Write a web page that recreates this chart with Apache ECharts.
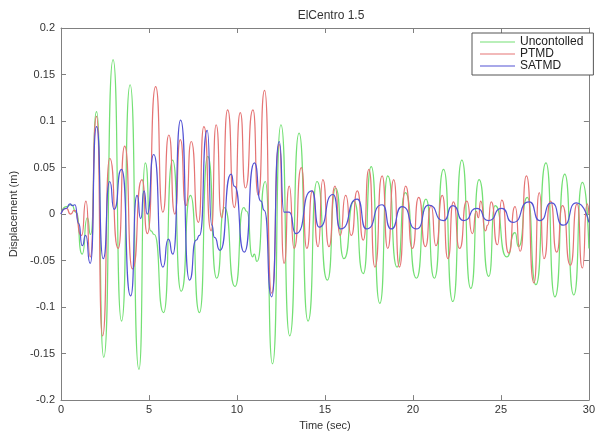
<!DOCTYPE html>
<html>
<head>
<meta charset="utf-8">
<script src="https://cdn.jsdelivr.net/npm/echarts@6/dist/echarts.min.js"></script>
<style>
  html, body { margin: 0; padding: 0; background: #fff; }
  #chart { width: 598px; height: 436px; }
</style>
</head>
<body>
<div id="chart"></div>
<script>
// values (peaks / troughs of each response)
const uncTime = [0, 0.3, 0.6, 0.85, 1.2, 1.5, 1.68, 2.02, 2.43, 2.96, 3.44, 3.93, 4.43, 4.79, 5.1, 5.3, 5.83, 6.34, 6.83, 7.36, 7.87, 8.34, 8.85, 9.29, 9.89, 10.38, 10.55, 10.89, 10.98, 11.14, 11.61, 12.02, 12.5, 13.0, 13.53, 14.04, 14.55, 15.14, 15.61, 16.08, 16.65, 17.18, 17.63, 18.12, 18.57, 19.1, 19.57, 20.2, 20.74, 21.22, 21.74, 22.27, 22.78, 23.29, 23.76, 24.31, 24.67, 25.33, 25.8, 26.0, 26.5, 26.99, 27.56, 28.07, 28.63, 29.14, 29.63, 30]
const uncDisp = [0, 0.008, 0.01, 0.002, -0.043, -0.004, -0.022, 0.11, -0.154, 0.166, -0.115, 0.139, -0.167, 0.055, -0.018, -0.022, -0.106, 0.058, -0.083, 0.02, -0.106, 0.062, -0.069, 0.007, -0.078, 0.007, 0.003, -0.046, -0.043, -0.051, 0.035, -0.161, 0.096, -0.131, 0.087, -0.115, 0.035, -0.071, 0.028, -0.048, 0.014, -0.064, 0.051, -0.096, 0.041, -0.057, 0.023, -0.069, 0.016, -0.069, 0.048, -0.094, 0.058, -0.08, 0.037, -0.067, 0.009, -0.046, -0.02, -0.035, 0.018, -0.076, 0.055, -0.089, 0.043, -0.087, 0.034, -0.037]

const ptmdTime = [0, 0.3, 0.55, 0.76, 1.17, 1.42, 1.66, 2.02, 2.36, 2.77, 3.25, 3.62, 4.06, 4.6, 4.91, 5.38, 5.79, 6.13, 6.47, 6.78, 7.1, 7.4, 7.81, 8.12, 8.53, 8.82, 9.13, 9.47, 9.85, 10.19, 10.48, 10.91, 11.21, 11.57, 11.97, 12.4, 12.68, 12.97, 13.25, 13.66, 13.97, 14.29, 14.61, 14.88, 15.23, 15.57, 15.86, 16.18, 16.5, 16.84, 17.18, 17.5, 17.84, 18.25, 18.57, 18.91, 19.23, 19.59, 19.97, 20.33, 20.71, 21.03, 21.31, 21.67, 21.99, 22.3, 22.65, 23.06, 23.38, 23.6, 23.72, 23.85, 24.12, 24.25, 24.45, 24.8, 25.05, 25.45, 25.8, 26.1, 26.45, 26.88, 27.18, 27.45, 27.82, 28.17, 28.5, 28.95, 29.33, 29.63, 29.9, 30]
const ptmdDisp = [0, 0.006, 0.0, 0.004, -0.023, 0.014, -0.046, 0.105, -0.131, 0.06, -0.037, 0.073, -0.059, 0.037, -0.021, 0.137, 0.002, 0.085, 0.0, 0.08, 0.009, 0.078, -0.009, 0.094, -0.018, 0.096, -0.004, 0.112, 0.007, 0.109, 0.028, 0.112, 0.02, 0.133, -0.085, 0.075, -0.053, 0.03, -0.037, 0.05, -0.037, 0.025, -0.035, 0.037, -0.035, 0.03, -0.023, 0.02, -0.023, 0.025, -0.028, 0.048, -0.057, 0.041, -0.037, 0.037, -0.057, 0.03, -0.037, 0.018, -0.035, 0.009, -0.034, 0.02, -0.048, 0.013, -0.037, 0.014, -0.021, 0.003, -0.004, 0.014, -0.018, -0.012, 0.013, -0.033, 0.015, -0.042, 0.008, -0.04, 0.041, -0.074, 0.023, -0.048, 0.014, -0.041, 0.009, -0.055, 0.011, -0.058, 0.011, 0.0]

const satmdTime = [0, 0.3, 0.51, 0.65, 0.79, 1.0, 1.21, 1.4, 1.66, 2.02, 2.4, 2.77, 3.02, 3.44, 3.96, 4.32, 4.53, 4.72, 4.9, 5.27, 5.79, 6.1, 6.36, 6.8, 7.3, 7.68, 7.87, 8.31, 8.57, 8.72, 9.04, 9.67, 9.85, 10.42, 10.99, 11.36, 11.55, 11.97, 12.4, 12.68, 12.97, 13.35, 14.25, 14.67, 15.46, 15.89, 16.84, 17.35, 18.25, 18.76, 19.38, 20.2, 20.9, 21.74, 22.27, 22.88, 23.63, 24.29, 25.05, 25.67, 26.61, 27.22, 27.88, 28.54, 29.29, 30]
const satmdDisp = [0, 0.006, 0.011, 0.009, 0.01, -0.01, -0.034, -0.023, -0.053, 0.094, -0.048, 0.035, 0.005, 0.048, -0.088, 0.02, -0.005, 0.025, 0.0, 0.064, -0.057, -0.027, -0.043, 0.101, -0.071, -0.028, -0.023, 0.09, -0.012, -0.025, -0.039, 0.043, 0.03, -0.041, 0.055, 0.014, 0.004, -0.089, 0.078, 0.002, 0.002, -0.021, 0.025, -0.014, 0.021, -0.016, 0.016, -0.016, 0.01, -0.016, 0.008, -0.016, 0.0096, -0.007, 0.009, -0.007, 0.006, -0.007, 0.006, -0.009, 0.013, -0.007, 0.012, -0.012, 0.012, -0.009]

const seriesNames = ['Uncontolled', 'PTMD', 'SATMD']
const colorList = ['#74e074', '#e57474', '#5252d4']

const fontFamily = 'Liberation Sans, Arial, sans-serif'

const pairs = (xs, ys) => xs.map((x, i) => [x, ys[i]])

const chart = echarts.init(document.getElementById('chart'), null, { renderer: 'canvas' })

const frameAxis = {
  axisLine: { show: true, onZero: false, lineStyle: { color: '#808080', width: 1 } },
  axisTick: { show: true, inside: true, length: 5, lineStyle: { color: '#808080' } },
  splitLine: { show: false }
}

const option = {
  backgroundColor: '#fff',
  animation: false,
  title: {
    text: 'ElCentro 1.5',
    left: 326,
    top: 5,
    textAlign: 'center',
    textStyle: { fontFamily, fontSize: 12, fontWeight: 'normal', color: '#333' }
  },
  grid: { left: 61, right: 8, top: 28, bottom: 32 },
  legend: {
    orient: 'vertical',
    left: 472,
    top: 33,
    data: seriesNames,
    icon: 'rect',
    itemWidth: 35,
    itemHeight: 1,
    itemGap: 0,
    padding: [3, 10, 3, 8],
    borderColor: '#555',
    borderWidth: 1,
    backgroundColor: '#fff',
    textStyle: { fontFamily, fontSize: 12, color: '#222', lineHeight: 12 }
  },
  xAxis: [
    {
      type: 'value',
      min: 0,
      max: 30,
      interval: 5,
      name: 'Time (sec)',
      nameLocation: 'middle',
      nameGap: 18,
      nameTextStyle: { fontFamily, fontSize: 11, color: '#333' },
      axisLabel: { fontFamily, fontSize: 11, color: '#333', margin: 4 },
      ...frameAxis
    },
    {
      type: 'value',
      position: 'top',
      min: 0,
      max: 30,
      interval: 5,
      axisLabel: { show: false },
      ...frameAxis
    }
  ],
  yAxis: [
    {
      type: 'value',
      min: -0.2,
      max: 0.2,
      interval: 0.05,
      name: 'Displacement (m)',
      nameLocation: 'middle',
      nameGap: 29,
      nameTextStyle: { fontFamily, fontSize: 11, color: '#333' },
      axisLabel: { fontFamily, fontSize: 11, color: '#333', margin: 6 },
      ...frameAxis
    },
    {
      type: 'value',
      position: 'right',
      min: -0.2,
      max: 0.2,
      interval: 0.05,
      axisLabel: { show: false },
      ...frameAxis
    }
  ],
  series: [
    [uncTime, uncDisp],
    [ptmdTime, ptmdDisp],
    [satmdTime, satmdDisp]
  ].map(([t, d], index) => ({
    name: seriesNames[index],
    type: 'line',
    xAxisIndex: 0,
    yAxisIndex: 0,
    data: pairs(t, d),
    symbol: 'none',
    smooth: 0.7,
    smoothMonotone: 'x',
    color: colorList[index],
    lineStyle: { width: 1.2, color: colorList[index] }
  }))
}

chart.setOption(option)
</script>
</body>
</html>
